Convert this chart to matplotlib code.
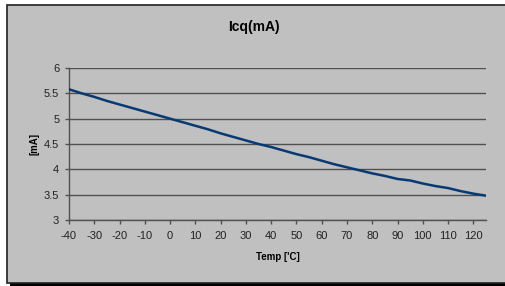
import numpy as np
import matplotlib.pyplot as plt
from matplotlib.patches import Rectangle

temps = [-40, -35, -30, -25, -20, -15, -10, -5, 0, 5, 10, 15, 20, 25, 30, 35, 40,
         45, 50, 55, 60, 65, 70, 75, 80, 85, 90, 95, 100, 105, 110, 115, 120, 125]
icq = [5.58, 5.50, 5.43, 5.35, 5.28, 5.21, 5.14, 5.07, 5.00, 4.93, 4.86, 4.79,
       4.71, 4.64, 4.57, 4.50, 4.44, 4.37, 4.30, 4.24, 4.17, 4.10, 4.04, 3.98,
       3.92, 3.87, 3.81, 3.78, 3.72, 3.67, 3.63, 3.57, 3.52, 3.48]
xticks = list(range(-40, 121, 10))
yticks = [3, 3.5, 4, 4.5, 5, 5.5, 6]

bg = '#c0c0c0'
axis_col = '#505050'
plt.rcParams['axes.unicode_minus'] = False

fig = plt.figure(figsize=(5.06, 2.86), dpi=100)
fig.patch.set_facecolor('white')

# chart area with frame and shadow
W, H = 506.0, 286.0
fig.patches.append(Rectangle((10 / W, 0), 1, 3.5 / H, transform=fig.transFigure,
                             facecolor='black', edgecolor='none', zorder=-2))
fig.patches.append(Rectangle((7.5 / W, 3.5 / H), 1, (281.5 - 3.5) / H,
                             transform=fig.transFigure, facecolor=bg,
                             edgecolor='#202020', linewidth=1.2, zorder=-1))

ax = fig.add_axes([69 / W, 1 - 220 / H, (486 - 69) / W, (220 - 68) / H])
ax.set_zorder(2)
ax.set_facecolor('none')
ax.plot(temps, icq, color='#073a73', linewidth=1.8, zorder=3)

ax.set_xlim(-40, 125)
ax.set_ylim(3, 6)
ax.set_xticks(xticks)
ax.set_yticks(yticks)
ax.set_yticklabels(['3', '3.5', '4', '4.5', '5', '5.5', '6'])
ax.yaxis.grid(True, color=axis_col, linewidth=1.0)
ax.set_axisbelow(True)

for s in ['top', 'right']:
    ax.spines[s].set_visible(False)
for s in ['left', 'bottom']:
    ax.spines[s].set_color(axis_col)
    ax.spines[s].set_linewidth(1.0)
ax.tick_params(direction='out', length=3, width=1, color=axis_col,
               labelsize=8, labelcolor='#222222')
ax.tick_params(axis='x', pad=5)
ax.tick_params(axis='y', pad=4)
for lab in ax.get_xticklabels() + ax.get_yticklabels():
    lab.set_family('Liberation Sans')

ax.set_xlabel("Temp ['C]", fontsize=7, fontweight='bold', family='Liberation Sans',
              labelpad=8)
ax.set_ylabel('[mA]', fontsize=7, fontweight='bold', family='Liberation Sans',
              labelpad=3)
fig.text(254 / W, 1 - 27 / H, 'Icq(mA)', ha='center', va='center', fontsize=10,
         fontweight='bold', family='Liberation Sans')

fig.savefig('out.png', dpi=100)
